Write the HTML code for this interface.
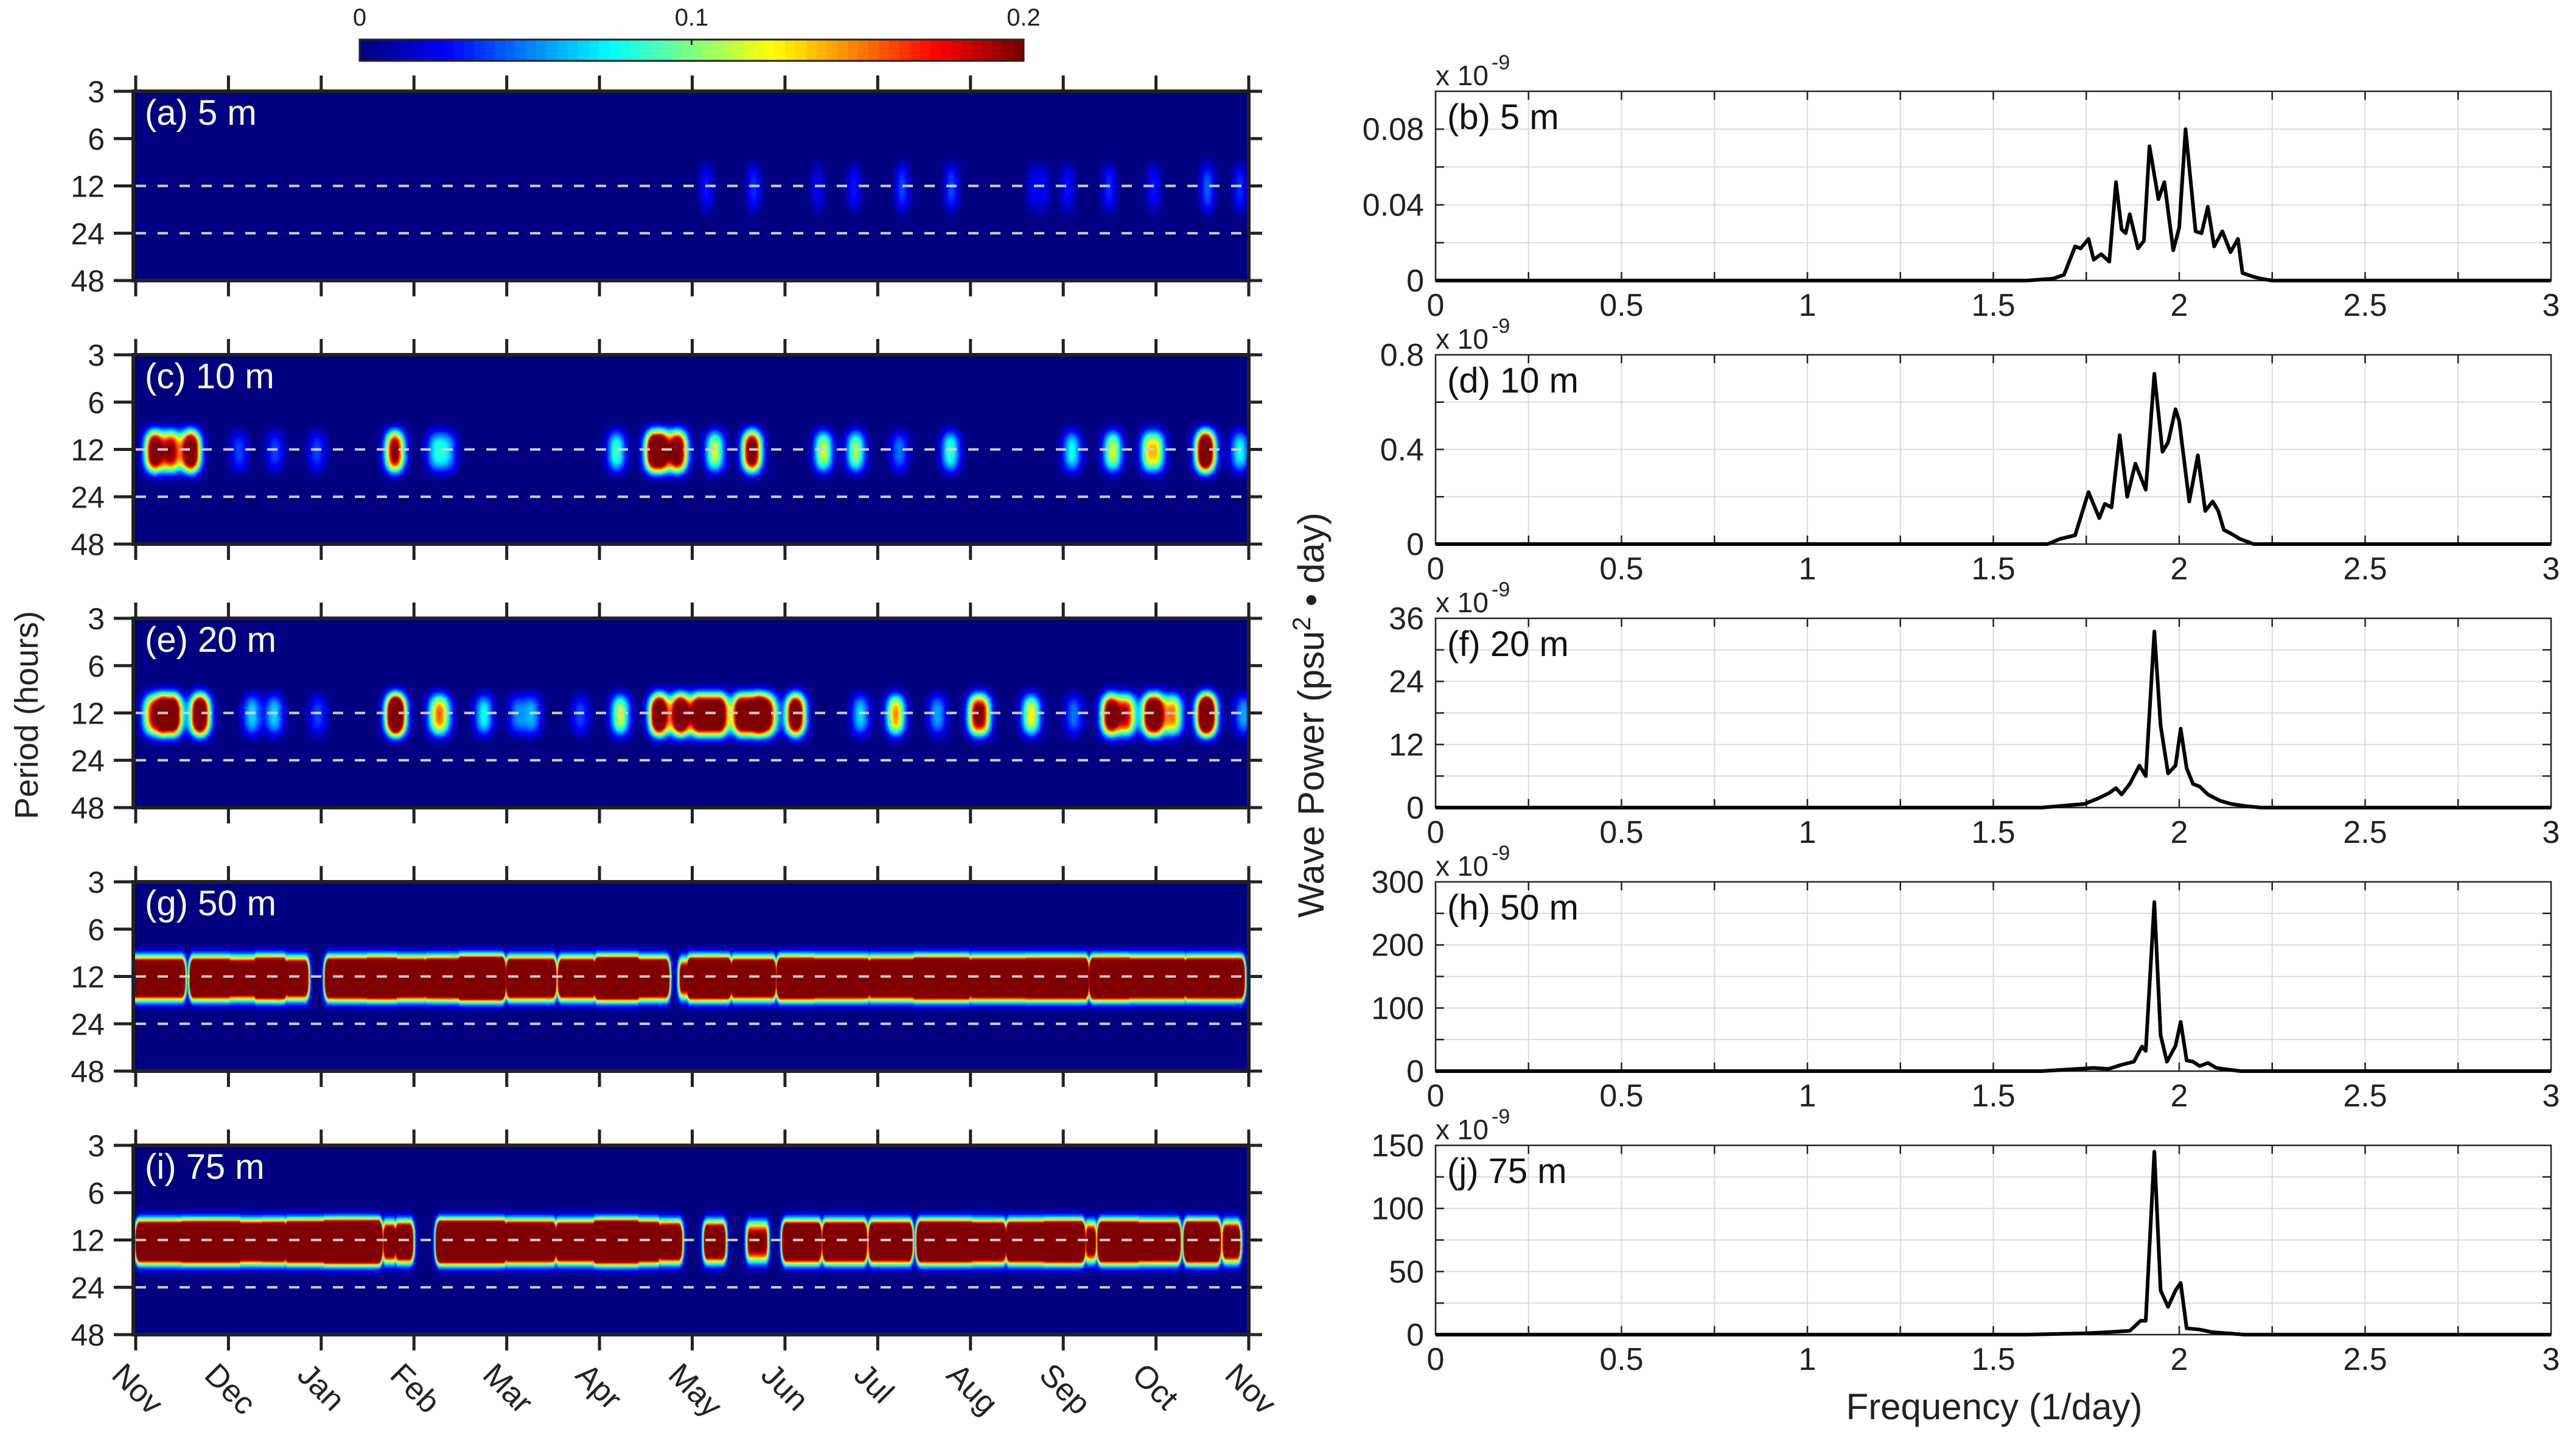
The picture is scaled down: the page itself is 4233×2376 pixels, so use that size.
<!DOCTYPE html>
<html><head><meta charset="utf-8">
<style>
html,body{margin:0;padding:0;background:#fff;}
body{width:4233px;height:2376px;position:relative;overflow:hidden;font-family:"Liberation Sans",Arial,sans-serif;}
canvas{position:absolute;display:block;}
#ov{position:absolute;left:0;top:0;}
</style></head>
<body>
<canvas id="cb" width="1091" height="35" style="left:591px;top:65px"></canvas>
<svg id="ov" width="4233" height="2376" xmlns="http://www.w3.org/2000/svg"></svg>
<script>
// ---------- data ----------
const monthLabels = ["Nov","Dec","Jan","Feb","Mar","Apr","May","Jun","Jul","Aug","Sep","Oct","Nov"];
const periodTicks = [3,6,12,24,48];
const depthLabels = ["(a) 5 m","(c) 10 m","(e) 20 m","(g) 50 m","(i) 75 m"];
const specLabels = ["(b) 5 m","(d) 10 m","(f) 20 m","(h) 50 m","(j) 75 m"];

// shallow bursts: center (months since Nov), amplitude (colour units), plateau duration (months)
const burstT_5 = [6.15,6.66,7.35,7.74,8.26,8.79,9.73,10.04,10.49,10.97,11.55,11.9];
const burstA_5 = [0.03,0.035,0.025,0.03,0.04,0.04,0.025,0.03,0.035,0.03,0.045,0.035];
const burstD_5 = [0,0,0,0,0,0,0.1,0,0,0,0,0];

const burstT_10 = [0.20,0.38,0.59,1.11,1.50,1.95,2.79,3.23,3.36,5.18,5.62,5.84,6.24,6.64,7.41,7.76,8.23,8.78,10.09,10.53,10.96,11.53,11.9];
const burstA_10 = [0.25,0.2,0.28,0.04,0.04,0.04,0.22,0.07,0.06,0.09,0.3,0.25,0.12,0.25,0.12,0.11,0.05,0.09,0.08,0.12,0.14,0.3,0.08];
const burstD_10 = [0,0,0,0,0,0,0,0,0,0,0.05,0,0,0,0,0,0,0,0,0,0.05,0,0];

const burstT_20 = [0.17,0.35,0.69,1.25,1.49,1.96,2.80,3.24,3.31,3.75,4.11,4.27,4.79,5.22,5.64,5.87,6.18,6.61,6.81,7.11,7.81,8.19,8.64,9.09,9.65,10.11,10.51,10.68,10.97,11.18,11.54,11.94];
const burstA_20 = [0.15,0.3,0.3,0.07,0.07,0.04,0.35,0.1,0.08,0.08,0.05,0.06,0.04,0.12,0.3,0.3,0.3,0.3,0.2,0.28,0.07,0.15,0.06,0.22,0.13,0.05,0.25,0.18,0.3,0.15,0.35,0.06];
const burstD_20 = [0,0.08,0,0,0,0,0,0,0,0,0,0,0,0,0,0,0.2,0.15,0,0,0,0,0,0.03,0,0,0,0,0.03,0,0,0];

// deep segments: start month, end month, amplitude
const segS_50 = [0,0.62,1.0,1.3,1.64,2.08,2.5,2.8,3.14,3.5,4.03,4.59,4.98,5.4,5.89,5.98,6.45,6.95,7.3,7.93,8.4,9.02,9.6,10.32,10.7,11.34];
const segE_50 = [0.49,1.0,1.3,1.59,1.82,2.5,2.8,3.10,3.5,3.94,4.49,4.92,5.4,5.71,5.96,6.38,6.86,7.3,7.88,8.4,8.97,9.6,10.23,10.7,11.29,11.91];
const segA_50 = [0.4,0.42,0.36,0.5,0.35,0.45,0.5,0.42,0.45,0.6,0.42,0.4,0.55,0.4,0.25,0.5,0.4,0.5,0.45,0.42,0.52,0.45,0.48,0.5,0.45,0.45];

const segS_75 = [0.04,0.5,1.11,1.37,1.64,2.04,2.70,2.83,3.28,4.01,4.56,4.96,5.4,5.67,6.16,6.62,7.01,7.44,7.94,8.46,9.0,9.42,9.8,10.27,10.41,10.8,11.34,11.75];
const segE_75 = [0.5,1.11,1.37,1.59,2.04,2.61,2.77,2.95,3.96,4.49,4.92,5.4,5.62,5.85,6.32,6.78,7.35,7.84,8.33,9.0,9.34,9.8,10.19,10.32,10.8,11.22,11.65,11.87];
const segA_75 = [0.45,0.5,0.42,0.45,0.5,0.6,0.3,0.35,0.55,0.45,0.4,0.58,0.45,0.35,0.32,0.22,0.42,0.42,0.42,0.48,0.42,0.45,0.5,0.25,0.48,0.42,0.48,0.3];

// spectra (units of 1e-9)
const freq_b = [0,1.59,1.66,1.69,1.72,1.735,1.756,1.77,1.79,1.812,1.83,1.845,1.856,1.867,1.889,1.905,1.92,1.944,1.96,1.984,2.0,2.017,2.044,2.06,2.077,2.094,2.116,2.138,2.158,2.17,2.2,2.22,2.25,3];
const pow_b  = [0,0,0.001,0.003,0.018,0.017,0.022,0.011,0.014,0.010,0.052,0.027,0.025,0.035,0.017,0.021,0.071,0.043,0.052,0.016,0.028,0.080,0.026,0.025,0.039,0.018,0.026,0.015,0.022,0.004,0.002,0.001,0,0];
const freq_d = [0,1.646,1.68,1.72,1.756,1.785,1.8,1.818,1.84,1.86,1.882,1.91,1.933,1.955,1.97,1.99,2.0,2.027,2.05,2.07,2.09,2.105,2.12,2.14,2.163,2.2,3];
const pow_d  = [0,0,0.022,0.037,0.22,0.11,0.17,0.155,0.46,0.2,0.34,0.23,0.72,0.39,0.43,0.57,0.52,0.18,0.375,0.14,0.18,0.14,0.06,0.044,0.022,0,0];
const freq_f = [0,1.63,1.745,1.78,1.81,1.83,1.845,1.867,1.893,1.91,1.933,1.95,1.97,1.99,2.004,2.02,2.037,2.055,2.077,2.11,2.14,2.176,2.22,3];
const pow_f  = [0,0,0.7,1.7,2.7,3.7,2.5,4.5,8,6,33.5,15.6,6.5,8,15,7.5,4.5,4,2.5,1.3,0.7,0.3,0,0];
const freq_h = [0,1.63,1.77,1.81,1.845,1.878,1.9,1.91,1.933,1.95,1.967,1.99,2.004,2.02,2.037,2.055,2.077,2.1,2.13,2.165,3];
const pow_h  = [0,0,5,3.5,10,15,39,32,268,57,15,40,78,17,15,8,13,5,2.5,0,0];
const freq_j = [0,1.59,1.745,1.81,1.867,1.896,1.91,1.933,1.95,1.97,1.99,2.004,2.02,2.055,2.088,2.13,2.176,3];
const pow_j  = [0,0,1,2,3,11,11,145,35,22,35,41,5,4,2,1,0,0];

const specYMax = [0.1,0.8,36,300,150];
const specYLabelTicks = [[0,0.04,0.08],[0,0.4,0.8],[0,12,24,36],[0,100,200,300],[0,50,100,150]];
const specYGrid = [0.02,0.2,6,50,25];
const freqTicks = [0,0.5,1,1.5,2,2.5,3];

// ---------- layout ----------
const PT = [150,583,1016,1449,1882], PH = 311;
const LX0 = 219, LX1 = 2052, RX0 = 2359, RX1 = 4192;
const T0 = 223, T1 = 2052;
function xMonth(t){ return T0 + t*(T1-T0)/12; }
function yPeriod(p, top){ return top + Math.log2(p/3)*(PH/4); }
function xFreq(f){ return RX0 + f*(RX1-RX0)/3; }
function yPow(v, i){ return PT[i] + PH - v/specYMax[i]*PH; }

function jet(x){
  x = Math.max(0, Math.min(1, x));
  const c = v => Math.max(0, Math.min(1, v));
  return [c(1.5-Math.abs(4*x-3))*255, c(1.5-Math.abs(4*x-2))*255, c(1.5-Math.abs(4*x-1))*255];
}

const NS = "http://www.w3.org/2000/svg";
const svg = document.getElementById("ov");
function mk(tag, attrs, parent){
  const e = document.createElementNS(NS, tag);
  for (const k in attrs) e.setAttribute(k, attrs[k]);
  (parent||svg).appendChild(e);
  return e;
}
function txt(s, attrs, parent){ const e = mk("text", attrs, parent); e.textContent = s; return e; }

// ---------- colorbar ----------
(function(){
  const cv = document.getElementById("cb"), ctx = cv.getContext("2d");
  const img = ctx.createImageData(cv.width, cv.height);
  for (let x=0;x<cv.width;x++){
    const col = jet(Math.floor(x/cv.width*64)/63);
    for (let y=0;y<cv.height;y++){ const k=(y*cv.width+x)*4; img.data[k]=col[0];img.data[k+1]=col[1];img.data[k+2]=col[2];img.data[k+3]=255; }
  }
  ctx.putImageData(img,0,0);
  const g = mk("g",{});
  
  
  mk("rect",{x:591,y:65,width:1091,height:35,fill:"none",stroke:"#222","stroke-width":3},g);
  const cbVals=[0,0.1,0.2];
  cbVals.forEach(v=>{
    const x = 591 + v/0.2*1091;
    mk("line",{x1:x,y1:65,x2:x,y2:74,stroke:"#222","stroke-width":3},g);
    const t = txt(String(v),{x:x,y:42,"font-size":40,"text-anchor":"middle",fill:"#222"},g);
    
    
  });
})();

// ---------- heatmap panels ----------
const shallow = [[burstT_5,burstA_5,burstD_5],[burstT_10,burstA_10,burstD_10],[burstT_20,burstA_20,burstD_20]];
const deep = [[segS_50,segE_50,segA_50],[segS_75,segE_75,segA_75]];
const W = LX1-LX0;
for (let i=0;i<5;i++){
  const top = PT[i];
  const cv = document.createElement("canvas");
  cv.width = W; cv.height = PH;
  cv.style.left = LX0+"px"; cv.style.top = top+"px";
  
  
  document.body.insertBefore(cv, svg);
  const ctx = cv.getContext("2d");
  const img = ctx.createImageData(W, PH);
  const T = new Float32Array(W);
  for (let x=0;x<W;x++){
    const t = (x+LX0-T0)/(T1-T0)*12;
    let v=0;
    if (i<3){
      const [bt,ba,bd] = shallow[i];
      const s = i===0 ? 0.08 : 0.1;
      for (let k=0;k<bt.length;k++){
        const dt = Math.max(0, Math.abs(t-bt[k]) - bd[k]/2);
        v += ba[k]*Math.exp(-(dt/s)*(dt/s));
      }
    } else {
      const [ss,se,sa] = deep[i-3];
      const s = 0.045;
      for (let k=0;k<ss.length;k++){
        const dt = t<ss[k] ? ss[k]-t : (t>se[k] ? t-se[k] : 0);
        v = Math.max(v, sa[k]*Math.exp(-(dt/s)*(dt/s)));
      }
    }
    T[x]=v;
  }
  const V = new Float32Array(PH);
  const w = i===0 ? 0.5 : 0.42;
  for (let y=0;y<PH;y++){
    const oct = (y+0.5)/(PH/4);
    const d = oct - 2 - 0.04;
    V[y] = Math.exp(-Math.pow(Math.abs(d/w),3));
  }
  for (let y=0;y<PH;y++) for (let x=0;x<W;x++){
    const v = T[x]*V[y];
    const col = jet(Math.floor(Math.min(1,v/0.2)*63)/63);
    const k=(y*W+x)*4; img.data[k]=col[0];img.data[k+1]=col[1];img.data[k+2]=col[2];img.data[k+3]=255;
  }
  ctx.putImageData(img,0,0);

  const g = mk("g",{});
  
  
  [12,24].forEach(p=>{
    const y = yPeriod(p, top);
    const l = mk("line",{x1:LX0+4,y1:y,x2:LX1-4,y2:y,stroke:"#cfcfcf","stroke-width":4,"stroke-dasharray":"17 19"},g);
    
    
  });
  mk("rect",{x:LX0,y:top,width:W,height:PH,fill:"none",stroke:"#222","stroke-width":6},g);
  periodTicks.forEach(p=>{
    const y = yPeriod(p, top);
    mk("line",{x1:LX0-32,y1:y,x2:LX0,y2:y,stroke:"#222","stroke-width":5},g);
    mk("line",{x1:LX1,y1:y,x2:LX1+22,y2:y,stroke:"#222","stroke-width":5},g);
    const t = txt(String(p),{x:172,y:y+18,"font-size":50,"text-anchor":"end",fill:"#222"},g);
    
    
  });
  monthLabels.forEach((m,k)=>{
    const x = xMonth(k);
    mk("line",{x1:x,y1:top-26,x2:x,y2:top,stroke:"#222","stroke-width":5},g);
    mk("line",{x1:x,y1:top+PH,x2:x,y2:top+PH+26,stroke:"#222","stroke-width":5},g);
  });
  const lab = txt(depthLabels[i],{x:238,y:top+55,"font-size":58,fill:"#fff"},g);
  
  
}
monthLabels.forEach((m,k)=>{
  const x = xMonth(k)-42, y = 2262;
  const t = txt(m,{x:x,y:y,"font-size":52,fill:"#222",transform:"rotate(45 "+x+" "+y+")"});
  
  
});
{
  const t = txt("Period (hours)",{x:62,y:1175,"font-size":54,fill:"#222","text-anchor":"middle",transform:"rotate(-90 62 1175)"});
  
  
}

// ---------- spectra ----------
const specF = [freq_b,freq_d,freq_f,freq_h,freq_j];
const specP = [pow_b,pow_d,pow_f,pow_h,pow_j];
for (let i=0;i<5;i++){
  const top = PT[i], bot = top+PH;
  const g = mk("g",{});
  
  
  mk("rect",{x:RX0,y:top,width:RX1-RX0,height:PH,fill:"#fff"},g);
  for (let f=0.25; f<3; f+=0.25){
    const x = xFreq(f);
    mk("line",{x1:x,y1:top,x2:x,y2:bot,stroke:"#dcdcdc","stroke-width":2},g);
    mk("line",{x1:x,y1:top,x2:x,y2:top+14,stroke:"#222","stroke-width":2.5},g);
    mk("line",{x1:x,y1:bot,x2:x,y2:bot-14,stroke:"#222","stroke-width":2.5},g);
  }
  for (let v=specYGrid[i]; v<specYMax[i]-1e-9; v+=specYGrid[i]){
    const y = yPow(v,i);
    mk("line",{x1:RX0,y1:y,x2:RX1,y2:y,stroke:"#dcdcdc","stroke-width":2},g);
    mk("line",{x1:RX0,y1:y,x2:RX0+14,y2:y,stroke:"#222","stroke-width":2.5},g);
    mk("line",{x1:RX1,y1:y,x2:RX1-14,y2:y,stroke:"#222","stroke-width":2.5},g);
  }
  mk("rect",{x:RX0,y:top,width:RX1-RX0,height:PH,fill:"none",stroke:"#222","stroke-width":2.5},g);
  const pts = specF[i].map((f,k)=>xFreq(f).toFixed(1)+","+yPow(specP[i][k],i).toFixed(1)).join(" ");
  const pl = mk("polyline",{points:pts,fill:"none",stroke:"#000","stroke-width":6,"stroke-linejoin":"round"},g);
  
  
  specYLabelTicks[i].forEach(v=>{
    const t = txt(String(v),{x:2340,y:yPow(v,i)+18,"font-size":52,"text-anchor":"end",fill:"#222"},g);
    
    
  });
  freqTicks.forEach(f=>{
    const t = txt(String(f),{x:xFreq(f),y:bot+58,"font-size":52,"text-anchor":"middle",fill:"#222"},g);
    
    
  });
  const ex = txt("x 10",{x:RX0,y:top-10,"font-size":46,fill:"#222"},g);
  
  
  const sup = txt("-9",{x:RX0+92,y:top-36,"font-size":34,fill:"#222"},g);
  
  
  const lab = txt(specLabels[i],{x:2378,y:top+62,"font-size":58,fill:"#111"},g);
  
  
}
{
  const t = txt("Frequency (1/day)",{x:3277,y:2332,"font-size":60,"text-anchor":"middle",fill:"#222"});
  
  
  const y = txt("",{x:2175,y:1175,"font-size":60,"text-anchor":"middle",fill:"#222",transform:"rotate(-90 2175 1175)"});
  
  
  const a = document.createElementNS(NS,"tspan"); a.textContent="Wave Power (psu"; y.appendChild(a);
  const b = document.createElementNS(NS,"tspan"); b.setAttribute("dy","-22"); b.setAttribute("font-size","42"); b.textContent="2"; y.appendChild(b);
  const c = document.createElementNS(NS,"tspan"); c.setAttribute("dy","22"); c.textContent=" \u2022 day)"; y.appendChild(c);
}
</script>
</body></html>
